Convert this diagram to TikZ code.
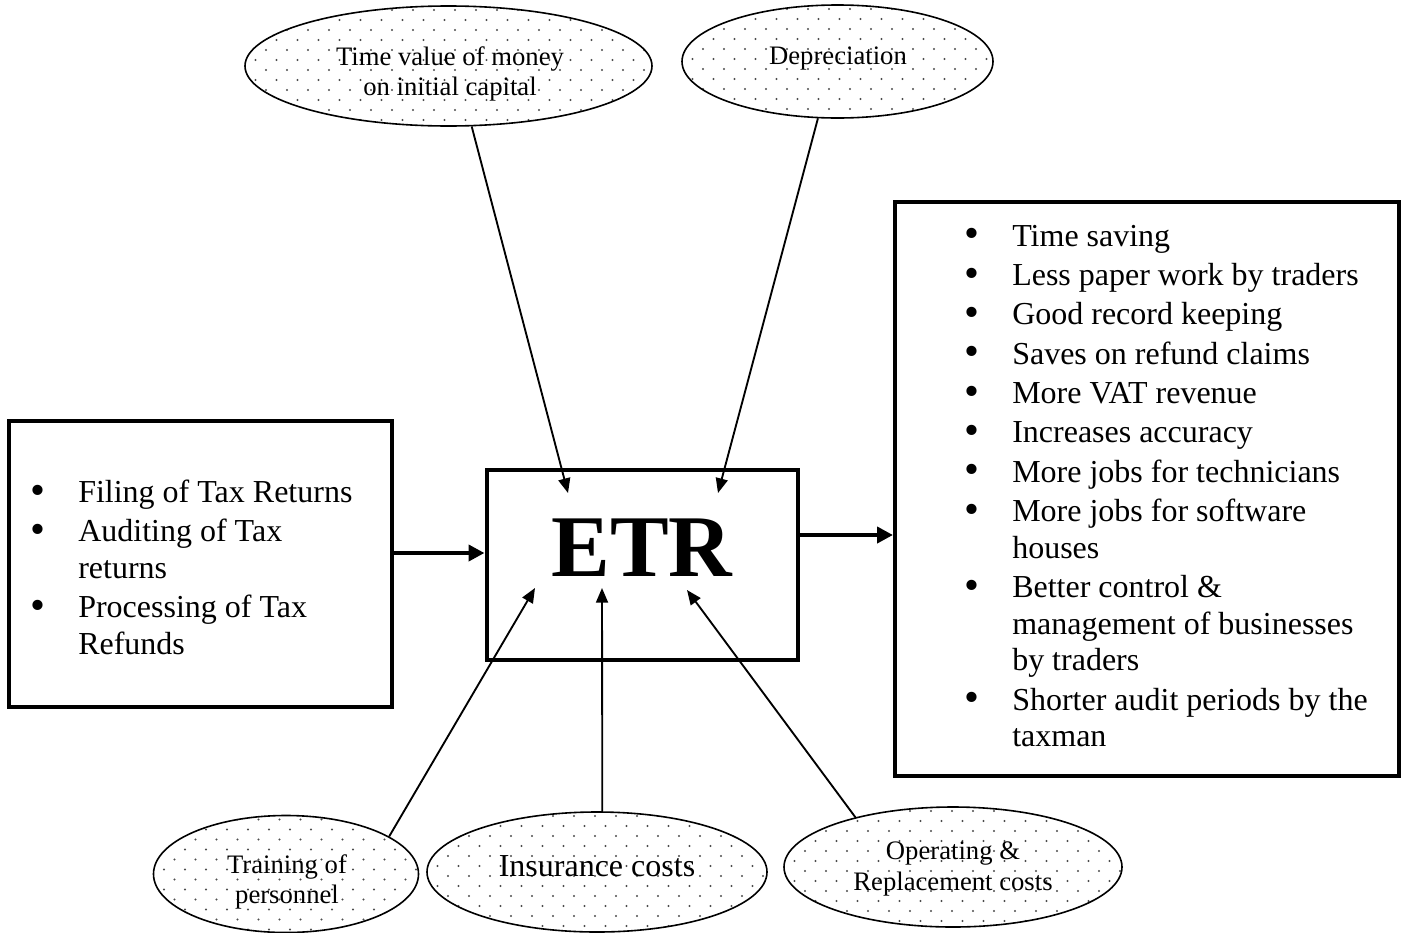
\documentclass[tikz,border=0pt]{standalone}
\usepackage{fontspec}
\setmainfont{Liberation Serif}
\usetikzlibrary{shapes.geometric,arrows.meta}
\newcommand{\bitem}[1]{\par\hangindent=36pt\hangafter=1\noindent\makebox[36pt][l]{\raisebox{-1.2pt}{\fontsize{32pt}{32pt}\selectfont\textbullet}}#1}
\newcommand{\liststart}{\raggedright\spaceskip=0pt\xspaceskip=0pt\parskip=2pt\relax}
\newcommand{\firstline}{\rule{0pt}{20pt}}
\begin{document}
\begin{tikzpicture}[x=0.75pt,y=-0.75pt,
  box/.style={draw, line width=3pt, rectangle, inner sep=0pt},
  dotfill/.style={path picture={
    \foreach \r in {0,...,13}{
      \foreach \c in {0,...,20}{
        \fill[black!70] ([shift={({\c*21+mod(\r,2)*10.5},{\r*10+4})}]path picture bounding box.north west) circle[radius=0.85pt];
      }}}},
  bubble/.style={draw, ellipse, line width=1.2pt, inner sep=0pt, dotfill},
  bubbletext/.style={inner sep=0pt, align=center, font=\fontsize{20pt}{23pt}\selectfont},
  thinarrow/.style={-{Triangle[length=11pt,width=9pt]}, line width=1.4pt},
  thickarrow/.style={-{Triangle[length=12pt,width=12pt]}, line width=3.6pt},
  listtext/.style={anchor=north west, inner sep=0pt, text width=#1,
    font={\fontsize{24pt}{27.5pt}\selectfont}}
]
\useasboundingbox (0,0) rectangle (1406,932);

% boxes
\node[box, minimum width=383*0.75pt, minimum height=285.5*0.75pt] (lbox) at (200,563.75) {};
\node[box, minimum width=311*0.75pt, minimum height=190*0.75pt] (etr) at (642,565) {};
\node[box, minimum width=503.5*0.75pt, minimum height=574*0.75pt] (rbox) at (1146.75,488.5) {};

\node[font=\fontsize{66pt}{66pt}\selectfont\bfseries, inner sep=0pt] (etrtext) at (642,548) {ETR};

% lists
\node[listtext=255pt] (ltext) at (30,463) {\liststart
\bitem{\firstline Filing of Tax Returns}%
\bitem{Auditing of Tax\newline returns}%
\bitem{Processing of Tax\newline Refunds}\par};

\node[listtext=322pt] (rtext) at (964,206.5) {\liststart
\bitem{\firstline Time saving}%
\bitem{Less paper work by traders}%
\bitem{Good record keeping}%
\bitem{Saves on refund claims}%
\bitem{More VAT revenue}%
\bitem{Increases accuracy}%
\bitem{More jobs for technicians}%
\bitem{More jobs for software\newline houses}%
\bitem{Better control \&\newline management of businesses\newline by traders}%
\bitem{Shorter audit periods by the\newline taxman}\par};

% ellipses
\node[bubble, minimum width=407*0.75pt, minimum height=120*0.75pt] (tl) at (448.5,66) {};
\node[bubble, minimum width=311*0.75pt, minimum height=113*0.75pt] (dep) at (837.5,61.5) {};
\node[bubble, minimum width=265*0.75pt, minimum height=117*0.75pt] (train) at (286,874) {};
\node[bubble, minimum width=340*0.75pt, minimum height=120*0.75pt] (ins) at (597,872) {};
\node[bubble, minimum width=338*0.75pt, minimum height=120*0.75pt] (op) at (953,867) {};

\node[bubbletext] (tltext) at (450,74) {Time value of money\\on initial capital};
\node[bubbletext] (deptext) at (838,59) {Depreciation};
\node[bubbletext] (traintext) at (287,882) {Training of\\personnel};
\node[bubbletext, font=\fontsize{24pt}{27pt}\selectfont] (instext) at (597,866) {Insurance costs};
\node[bubbletext] (optext) at (953,869) {Operating \&\\Replacement costs};

% arrow targets
\coordinate (t1) at (568,493);
\coordinate (t2) at (718,493);
\coordinate (t3) at (535,588);
\coordinate (t4) at (602,588);
\coordinate (t5) at (687,590);
\coordinate (h1) at (391.5,553);
\coordinate (h2) at (797.5,535);

\draw[thinarrow] (tl.-69) -- (t1);
\draw[thinarrow] (dep.-109) -- (t2);
\draw[thinarrow] (train.20) -- (t3);
\draw[thinarrow] (ins.85) -- (t4);
\draw[thinarrow] (op.153) -- (t5);

\draw[thickarrow] (h1) -- (h1 -| etr.west);
\draw[thickarrow] (h2) -- (h2 -| rbox.west);
\end{tikzpicture}
\end{document}
